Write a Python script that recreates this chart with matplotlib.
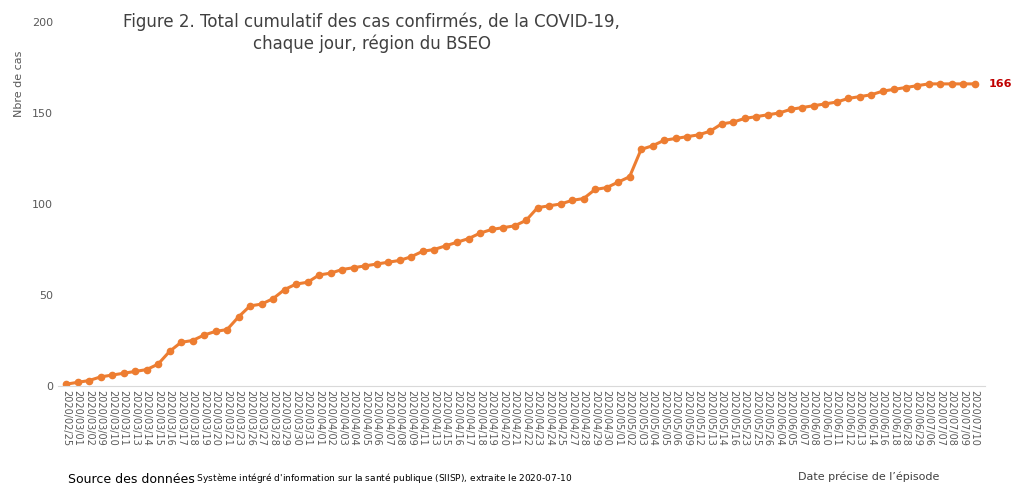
import matplotlib.pyplot as plt

dates = ["02/25", "03/01", "03/02", "03/09", "03/10", "03/11", "03/13", "03/14", "03/15", "03/16",
         "03/17", "03/18", "03/19", "03/20", "03/21", "03/23", "03/26", "03/27", "03/28", "03/29",
         "03/30", "03/31", "04/01", "04/02", "04/03", "04/04", "04/05", "04/06", "04/07", "04/08",
         "04/09", "04/11", "04/13", "04/15", "04/16", "04/17", "04/18", "04/19", "04/20", "04/21",
         "04/22", "04/23", "04/24", "04/25", "04/27", "04/28", "04/29", "04/30", "05/01", "05/02",
         "05/03", "05/04", "05/05", "05/06", "05/09", "05/12", "05/13", "05/14", "05/16", "05/23",
         "05/25", "05/26", "06/04", "06/05", "06/07", "06/08", "06/10", "06/11", "06/12", "06/13",
         "06/14", "06/16", "06/18", "06/28", "06/29", "07/06", "07/07", "07/08", "07/09", "07/10"]
labels = ["2020/" + d for d in dates]
cases = [1, 2, 3, 5, 6, 7, 8, 9, 12, 19,
         24, 25, 28, 30, 31, 38, 44, 45, 48, 53,
         56, 57, 61, 62, 64, 65, 66, 67, 68, 69,
         71, 74, 75, 77, 79, 81, 84, 86, 87, 88,
         91, 98, 99, 100, 102, 103, 108, 109, 112, 115,
         130, 132, 135, 136, 137, 138, 140, 144, 145, 147,
         148, 149, 150, 152, 153, 154, 155, 156, 158, 159,
         160, 162, 163, 164, 165, 166, 166, 166, 166, 166]

orange = "#ED7D31"
fig = plt.figure(figsize=(10.27, 4.92), dpi=100)
ax = fig.add_axes([58 / 1027, 1 - 386 / 492, (985 - 58) / 1027, (386 - 22) / 492])
x = list(range(len(cases)))
ax.plot(x, cases, color=orange, lw=2.2, marker="o", ms=4.5)
ax.set_xlim(-0.7, len(cases) - 0.1)
ax.set_ylim(0, 200)
ax.set_yticks([0, 50, 100, 150, 200])
ax.set_xticks(x)
ax.set_xticklabels(labels, rotation=270, fontsize=7, color="#595959")
ax.tick_params(axis="y", labelsize=8, colors="#595959", length=0)
ax.tick_params(axis="x", length=0, pad=3)
for s in ["top", "right", "left"]:
    ax.spines[s].set_visible(False)
ax.spines["bottom"].set_color("#d9d9d9")
ax.set_ylabel("Nbre de cas", fontsize=8, color="#595959")
ax.yaxis.set_label_coords(-0.037, 0.83)
ax.annotate(str(cases[-1]), (x[-1], cases[-1]), xytext=(10, 0), textcoords="offset points",
            va="center", fontsize=8, color="#C00000", fontweight="bold")

fig.text(0.362, 0.975, "Figure 2. Total cumulatif des cas confirmés, de la COVID-19,\nchaque jour, région du BSEO",
         ha="center", va="top", fontsize=12, color="#404040", linespacing=1.25,
         family="Liberation Sans Narrow")
fig.text(0.066, 0.012, "Source des données", fontsize=9, va="bottom")
fig.text(0.186, 0.014, ": Système intégré d'information sur la santé publique (SIISP), extraite le $\\it{2020}$-$\\it{07}$-$\\it{10}$",
         fontsize=6.5, va="bottom")
fig.text(0.777, 0.02, "Date précise de l\u2019épisode", fontsize=8, color="#404040", va="bottom")

fig.savefig("out.png", dpi=100)
